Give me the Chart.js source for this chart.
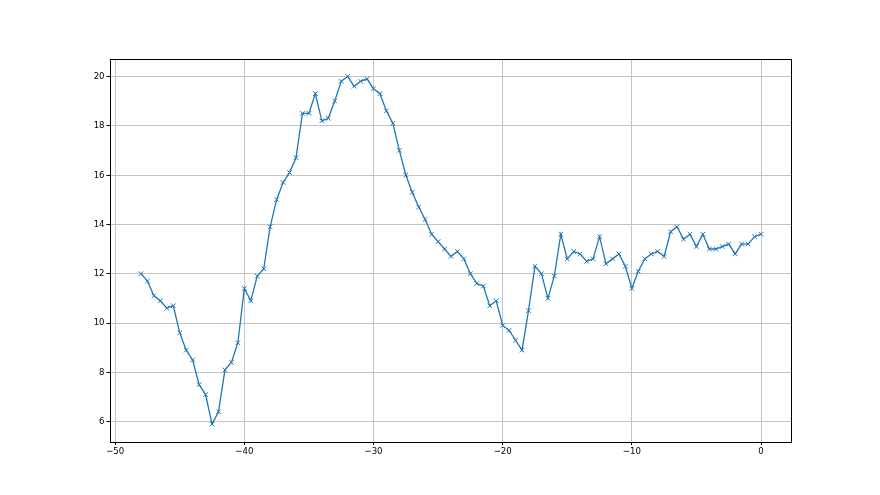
<!DOCTYPE html>
<html>
<head>
<meta charset="utf-8">
<script src="https://cdn.jsdelivr.net/npm/chart.js@4"></script>
<style>
html,body{margin:0;padding:0;background:#fff;}
#wrap{width:880px;height:495px;position:relative;}
</style>
</head>
<body>
<div id="wrap"><canvas id="c" width="880" height="495"></canvas></div>
<script>
const xValues = [
-48,-47.5,-47,-46.5,-46,-45.5,-45,-44.5,-44,-43.5,-43,-42.5,-42,-41.5,-41,-40.5,
-40,-39.5,-39,-38.5,-38,-37.5,-37,-36.5,-36,-35.5,-35,-34.5,-34,-33.5,-33,-32.5,
-32,-31.5,-31,-30.5,-30,-29.5,-29,-28.5,-28,-27.5,-27,-26.5,-26,-25.5,-25,-24.5,
-24,-23.5,-23,-22.5,-22,-21.5,-21,-20.5,-20,-19.5,-19,-18.5,-18,-17.5,-17,-16.5,
-16,-15.5,-15,-14.5,-14,-13.5,-13,-12.5,-12,-11.5,-11,-10.5,-10,-9.5,-9,-8.5,
-8,-7.5,-7,-6.5,-6,-5.5,-5,-4.5,-4,-3.5,-3,-2.5,-2,-1.5,-1,-0.5,0
];
const yValues = [
12.0,11.7,11.1,10.9,10.6,10.7,9.6,8.9,8.5,7.5,7.1,5.9,6.4,8.1,8.4,9.2,
11.4,10.9,11.9,12.2,13.9,15.0,15.7,16.1,16.7,18.5,18.5,19.3,18.2,18.3,19.0,19.8,
20.0,19.6,19.8,19.9,19.5,19.3,18.6,18.1,17.0,16.0,15.3,14.7,14.2,13.6,13.3,13.0,
12.7,12.9,12.6,12.0,11.6,11.5,10.7,10.9,9.9,9.7,9.3,8.9,10.5,12.3,12.0,11.0,
11.9,13.6,12.6,12.9,12.8,12.5,12.6,13.5,12.4,12.6,12.8,12.3,11.4,12.1,12.6,12.8,
12.9,12.7,13.7,13.9,13.4,13.6,13.1,13.6,13.0,13.0,13.1,13.2,12.8,13.2,13.2,13.5,13.6
];
const xTicks = [-50,-40,-30,-20,-10,0];
const yTicks = [6,8,10,12,14,16,18,20];

const points = xValues.map((x,i)=>({x:x,y:yValues[i]}));

// matplotlib-like 5% margins
const xMinD = Math.min(...xValues), xMaxD = Math.max(...xValues);
const yMinD = Math.min(...yValues), yMaxD = Math.max(...yValues);
const xm = (xMaxD-xMinD)*0.05, ym = (yMaxD-yMinD)*0.05;

const FONT = {family:"'Liberation Sans Narrow','DejaVu Sans Condensed','DejaVu Sans',sans-serif", size:9.5};

const frame = {
  id:'frame',
  afterDatasetsDraw(chart){
    const a = chart.chartArea, ctx = chart.ctx;
    ctx.save();
    ctx.strokeStyle = '#000';
    ctx.lineWidth = 1;
    ctx.strokeRect(Math.round(a.left)+0.5, Math.round(a.top)+0.5, Math.round(a.right-a.left)-1, Math.round(a.bottom-a.top));
    ctx.restore();
  }
};

new Chart(document.getElementById('c'), {
  type:'scatter',
  data:{datasets:[{
    data:points,
    showLine:true,
    borderColor:'#1f77b4',
    backgroundColor:'#1f77b4',
    borderWidth:1.3,
    tension:0,
    pointStyle:'crossRot',
    pointRadius:3.2,
    pointBorderWidth:1,
    pointBorderColor:'#1f77b4',
    pointHoverRadius:3.2
  }]},
  options:{
    responsive:false,
    animation:false,
    events:[],
    layout:{padding:{top:59,right:88,left:0,bottom:0}},
    plugins:{legend:{display:false},tooltip:{enabled:false}},
    scales:{
      x:{
        type:'linear',
        min:xMinD-xm, max:xMaxD+xm,
        afterBuildTicks(s){ s.ticks = xTicks.map(v=>({value:v})); },
        afterFit(s){ s.height = 53.5; },
        grid:{color:'#c4c4c4', lineWidth:1, tickColor:'#000', tickLength:3.5, drawTicks:true},
        border:{display:false},
        ticks:{color:'#000', font:FONT, padding:1, maxRotation:0,
          callback:(v)=> (v<0? '\u2212'+Math.abs(v) : String(v))}
      },
      y:{
        type:'linear',
        min:yMinD-ym, max:yMaxD+ym,
        afterBuildTicks(s){ s.ticks = yTicks.map(v=>({value:v})); },
        afterFit(s){ s.width = 110; },
        grid:{color:'#c4c4c4', lineWidth:1, tickColor:'#000', tickLength:3.5, drawTicks:true},
        border:{display:false},
        ticks:{color:'#000', font:FONT, padding:2, callback:(v)=>String(v)}
      }
    }
  },
  plugins:[frame]
});
</script>
</body>
</html>
